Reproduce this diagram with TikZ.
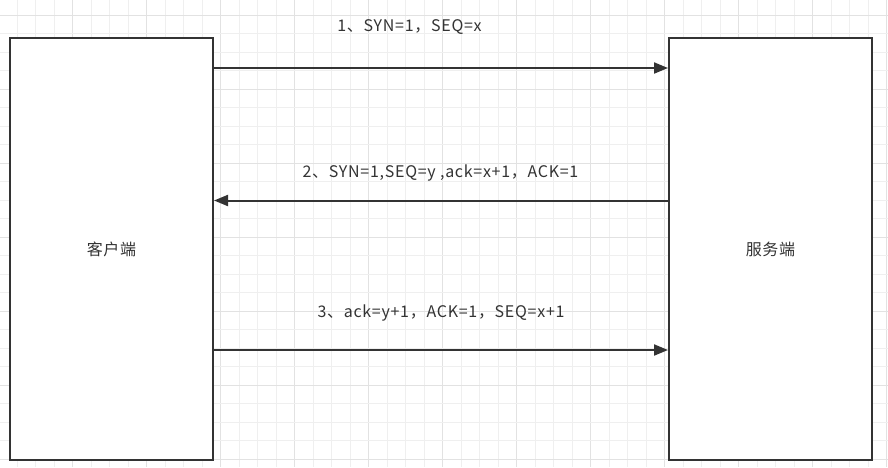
\documentclass[tikz,border=0pt]{standalone}
\usepackage{fontspec}
\setmainfont{Noto Sans CJK SC}[LetterSpace=4.5]
\usetikzlibrary{arrows.meta}
\definecolor{ink}{HTML}{333333}
\definecolor{gridminor}{HTML}{EFEFEF}
\definecolor{gridmajor}{HTML}{E2E2E2}
\tikzset{
  party/.style={draw=ink, line width=2pt, fill=white, minimum width=203pt, minimum height=422pt, inner sep=0pt, text=ink, font=\fontsize{16}{19}\selectfont},
  msg/.style={draw=ink, line width=2pt, -{Triangle[length=14pt,width=11pt]}},
  msglabel/.style={text=ink, font=\fontsize{16}{19}\selectfont, inner sep=0pt}
}
\begin{document}
\begin{tikzpicture}[x=1pt,y=-1pt]
\useasboundingbox (0,0) rectangle (888,467);
\fill[white] (0,0) rectangle (888,467);
% grid
\foreach \k in {0,...,47}{
  \pgfmathtruncatemacro{\m}{mod(\k,4)}
  \ifnum\m=3
    \draw[gridmajor, line width=1pt] ({17.3+18.5*\k},0) -- ({17.3+18.5*\k},467);
  \else
    \draw[gridminor, line width=1pt] ({17.3+18.5*\k},0) -- ({17.3+18.5*\k},467);
  \fi
}
\foreach \k in {0,...,24}{
  \pgfmathtruncatemacro{\m}{mod(\k,4)}
  \ifnum\m=0
    \draw[gridmajor, line width=1pt] (0,{15+18.5*\k}) -- (888,{15+18.5*\k});
  \else
    \draw[gridminor, line width=1pt] (0,{15+18.5*\k}) -- (888,{15+18.5*\k});
  \fi
}
% parties
\node[party] (client) at (111.5,249) {客户端};
\node[party] (server) at (770.5,249) {服务端};
% messages
\coordinate (y1) at (0,68);
\coordinate (y2) at (0,200.5);
\coordinate (y3) at (0,350);
\draw[msg] (client.east |- y1) -- (server.west |- y1);
\draw[msg] (server.west |- y2) -- (client.east |- y2);
\draw[msg] (client.east |- y3) -- (server.west |- y3);
\node[msglabel] (l1) at (409.5,27) {1、SYN=1，SEQ=x};
\node[msglabel] (l2) at (440.5,172.5) {2、SYN=1,SEQ=y ,ack=x+1，ACK=1};
\node[msglabel] (l3) at (441,313) {3、ack=y+1，ACK=1，SEQ=x+1};
\end{tikzpicture}
\end{document}
